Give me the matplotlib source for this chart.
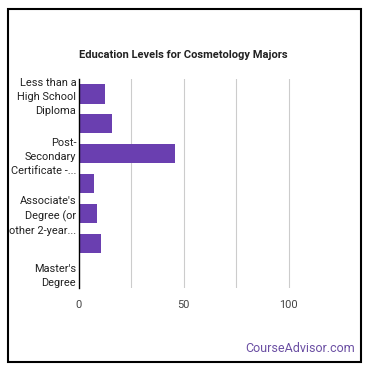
"""Education Levels for Cosmetology Majors - horizontal bar chart, 370x370."""
import matplotlib
matplotlib.use("Agg")
import matplotlib.pyplot as plt
from matplotlib.patches import Rectangle

plt.rcParams["font.family"] = ["Roboto", "DejaVu Sans"]

# data (top to bottom)
levels = [
    "Less than a\nHigh School\nDiploma",
    "High School Diploma",
    "Post-\nSecondary\nCertificate -...",
    "Some College Courses",
    "Associate's\nDegree (or\nother 2-year...",
    "Bachelor's Degree",
    "Master's\nDegree",
]
shares = [12.4, 15.7, 45.7, 7.2, 8.6, 10.5, 0.5]
shown = [0, 2, 4, 6]          # only every other label is printed
xticks = [0, 50, 100]
grid_x = [25, 50, 75, 100]

W = H = 370
fig = plt.figure(figsize=(W / 100, H / 100), dpi=100)

# outer frame
fig.patches.append(Rectangle((8 / W, 8 / H), 353 / W, 353 / H, transform=fig.transFigure,
                             fill=False, edgecolor="black", lw=1.5))

ax = fig.add_axes([79 / W, 1 - 288 / H, (341 - 79) / W, (288 - 79) / H])
pos = list(range(len(levels)))
ax.barh(pos, shares, height=0.65, color="#6a3fb0", zorder=3)
ax.set_ylim(len(levels) - 0.5, -0.5)
ax.set_xlim(0, 125)

for g in grid_x:
    ax.axvline(g, color="#cccccc", lw=0.8, zorder=1)

ax.set_yticks([pos[i] for i in shown])
ax.set_yticklabels([levels[i] for i in shown], fontsize=7.9, color="#222222",
                   linespacing=1.5)
ax.set_xticks(xticks)
ax.set_xticklabels([str(t) for t in xticks], fontsize=7.9, color="#444444")
ax.tick_params(length=0)
ax.tick_params(axis="y", pad=2)
ax.tick_params(axis="x", pad=9)

for s in ["top", "right", "bottom"]:
    ax.spines[s].set_visible(False)
ax.spines["left"].set_color("black")
ax.spines["left"].set_linewidth(1.0)
ax.spines["left"].set_zorder(4)

fig.text(183 / W, 1 - 55 / H, "Education Levels for Cosmetology Majors",
         ha="center", va="center", fontsize=8.0, fontweight="bold", color="#222222")
fig.text(355 / W, 1 - 348 / H, "CourseAdvisor.com", ha="right", va="center",
         fontsize=9.0, color="#6b4fa3")

fig.savefig("out.png", dpi=100)
